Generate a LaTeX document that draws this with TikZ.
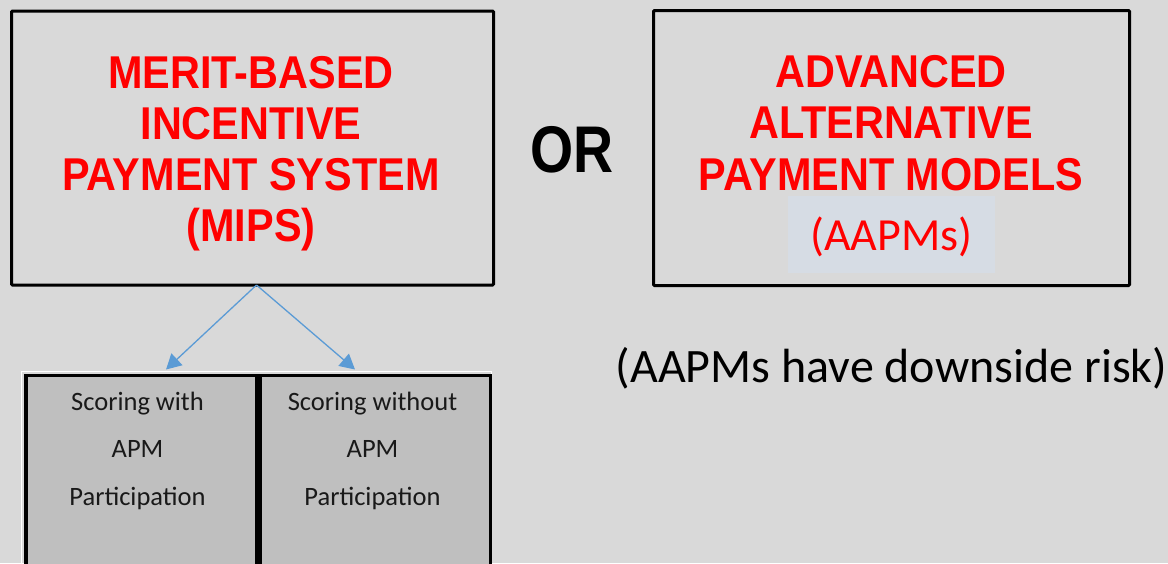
\documentclass[tikz,border=0pt]{standalone}
\usepackage{fontspec}
\setmainfont{Carlito}
\newfontfamily\arialf{Liberation Sans}
\usetikzlibrary{arrows.meta}
\definecolor{bg}{HTML}{D9D9D9}
\definecolor{cellgray}{HTML}{BFBFBF}
\definecolor{hilite}{HTML}{D6DCE4}
\definecolor{arrowblue}{HTML}{5B9BD5}
\definecolor{redtext}{HTML}{FF0000}
\newcommand{\redline}[1]{\scalebox{0.9}[1]{#1}}
\tikzset{
  bigbox/.style={draw=black, line width=3pt, fill=bg, rounded corners=1pt},
  redtxt/.style={text=redtext, font=\arialf\bfseries\fontsize{46}{51}\selectfont, anchor=base, inner sep=0pt},
  cellbox/.style={draw=black, line width=3.5pt, fill=cellgray},
  celltxt/.style={text=black!90, font=\fontsize{26.5}{30}\selectfont, anchor=base, inner sep=0pt},
  conn/.style={draw=arrowblue, line width=1.3pt, -{Triangle[length=15pt,width=16pt]}},
}
\begin{document}
\begin{tikzpicture}[x=1pt,y=-1pt]
\useasboundingbox (0,0) rectangle (1168,563);
\fill[bg] (0,0) rectangle (1168,563);
\clip (0,0) rectangle (1168,563);

% top boxes
\node[bigbox, minimum width=482pt, minimum height=274pt, anchor=north west] (mips) at (10,9.5) {};
\node[bigbox, minimum width=476pt, minimum height=275pt, anchor=north west] (aapm) at (652,9) {};

% MIPS text
\node[redtxt] (m1) at (251,88) {\redline{MERIT-BASED}};
\node[redtxt] (m2) at (251,139) {\redline{INCENTIVE}};
\node[redtxt] (m3) at (251,190) {\redline{PAYMENT SYSTEM}};
\node[redtxt] (m4) at (251,241) {\redline{(MIPS)}};

% AAPM text
\node[redtxt] (a1) at (891,87) {\redline{ADVANCED}};
\node[redtxt] (a2) at (891,138) {\redline{ALTERNATIVE}};
\node[redtxt] (a3) at (891,190) {\redline{PAYMENT MODELS}};
\node[fill=hilite, minimum width=207pt, minimum height=77pt, anchor=north west, inner sep=0pt] (hl) at (788,196) {};
\node[text=redtext, font=\fontsize{46}{50}\selectfont, anchor=base, inner sep=0pt] (a4) at (891.5,250) {(AAPMs)};

% OR
\node[font=\arialf\bfseries\fontsize{66}{70}\selectfont, anchor=base, inner sep=0pt] (or) at (572,172) {\scalebox{0.84}[1]{OR}};

% downside risk
\node[font=\fontsize{48}{52}\selectfont, anchor=base, inner sep=0pt] (risk) at (891.5,382) {(AAPMs have downside risk)};

% table
\draw[white, line width=1pt] (21.5,600) -- (21.5,371) -- (491.2,371) -- (491.2,600);
\node[cellbox, minimum width=230.5pt, minimum height=250pt, anchor=north west] (c1) at (24,373.5) {};
\node[cellbox, minimum width=230.7pt, minimum height=250pt, anchor=north west] (c2) at (258,373.5) {};

\node[celltxt] (t11) at (137.5,410) {Scoring with};
\node[celltxt] (t12) at (137.5,457) {APM};
\node[celltxt] (t13) at (137.5,505) {Participation};
\node[celltxt] (t21) at (372.5,410) {Scoring without};
\node[celltxt] (t22) at (372.5,457) {APM};
\node[celltxt] (t23) at (372.5,505) {Participation};

% connectors
\coordinate (src) at (256.5,285);
\coordinate (tl) at (166,369.5);
\coordinate (tr) at (355,369.5);
\draw[conn] (src) -- (tl);
\draw[conn] (src) -- (tr);
\end{tikzpicture}
\end{document}
